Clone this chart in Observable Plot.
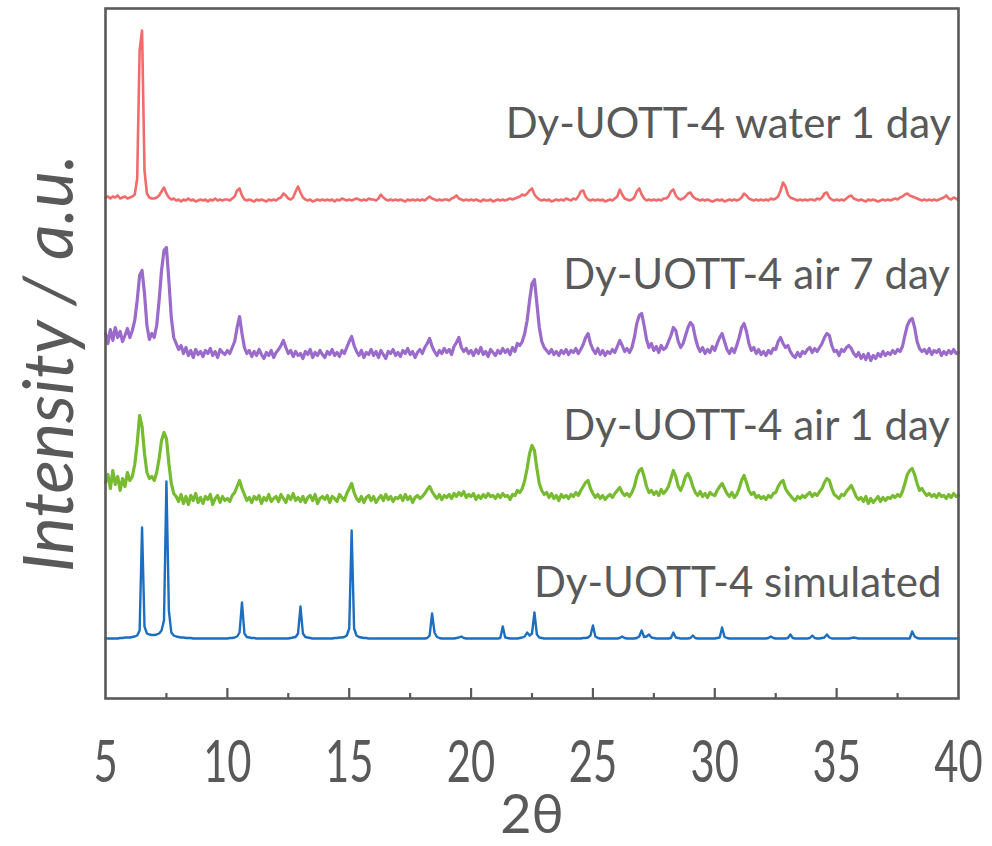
<!DOCTYPE html>
<html>
<head>
<meta charset="utf-8">
<script src="https://cdn.jsdelivr.net/npm/d3@7"></script>
<script src="https://cdn.jsdelivr.net/npm/@observablehq/plot@0.6"></script>
<style>
  html, body { margin: 0; padding: 0; background: #fff; }
</style>
</head>
<body>
<div id="chart"></div>
<script>
// ---- sampling of the 2θ axis (degrees) ----
const twoThetaStart = 5;
const twoThetaStep = 0.1;

// ---- series names (legend text) ----
const seriesNames = ["Dy-UOTT-4 water 1 day", "Dy-UOTT-4 air 7 day", "Dy-UOTT-4 air 1 day", "Dy-UOTT-4 simulated"];

// ---- vertical offsets of the stacked patterns (a.u.) ----
const seriesOffsets = [498, 343, 200, 60];

// ---- intensities (a.u.), one value per 0.1° from 5.0° to 40.0° ----
const water1Day = [
  3,4,2,4,3,5,2,3,4,2,
  3,4,6,22,150,170,30,7,3,2,
  2,3,5,9,13,7,3,1,2,0,
  1,-1,1,0,2,0,1,-1,0,1,
  0,1,-1,1,0,2,0,1,0,1,
  1,0,2,4,10,12,5,1,0,1,
  0,-1,1,0,1,0,-1,1,0,1,
  0,2,3,7,5,2,1,3,9,14,
  8,3,1,0,1,-1,0,1,0,1,
  0,1,0,1,-1,1,0,2,1,0,
  1,0,1,2,1,0,1,0,2,1,
  1,0,2,6,3,1,0,1,0,1,
  0,1,0,-1,1,0,1,0,1,0,
  1,0,2,4,2,1,0,1,0,1,
  1,0,2,3,5,2,1,0,1,0,
  1,0,1,0,-1,1,0,0,1,-1,
  0,1,0,1,0,1,2,1,2,3,
  4,6,5,7,10,12,6,3,1,0,
  1,0,1,-1,0,1,0,1,0,2,
  1,0,2,1,4,9,10,4,1,0,
  1,0,1,0,1,-1,0,1,0,2,
  4,11,6,2,1,0,1,3,9,12,
  6,2,0,1,0,1,0,1,0,2,
  2,4,9,11,5,2,1,2,4,7,
  8,4,2,1,0,1,0,1,0,-1,
  0,1,0,1,-1,0,1,0,1,0,
  1,3,7,5,2,1,0,1,0,1,
  0,1,0,2,1,2,4,10,18,14,
  6,3,2,1,0,1,0,1,0,1,
  1,0,2,1,3,7,8,3,1,0,
  1,0,1,0,2,4,5,2,1,0,
  1,0,-1,1,0,1,0,-1,0,1,
  0,1,0,1,2,1,3,4,6,7,
  5,4,3,2,1,0,1,0,1,0,
  1,0,1,2,3,5,2,1,3,2,
  0
];

const air7Day = [
  22,12,26,15,28,18,24,14,20,27,
  18,25,35,55,80,85,62,30,16,22,
  18,30,55,85,105,108,75,38,18,12,
  6,10,2,8,0,5,-2,6,1,4,
  -1,5,2,7,0,4,-2,6,3,1,
  5,2,8,14,28,39,22,8,2,5,
  -1,4,0,6,1,-3,3,0,5,-2,
  3,6,10,15,8,2,5,-1,4,0,
  2,-3,4,1,6,-2,3,0,5,1,
  -2,4,1,6,0,3,-1,5,2,8,
  14,19,10,4,0,5,-2,3,1,6,
  0,4,-2,5,1,-3,4,2,6,0,
  3,-1,5,2,7,1,4,-2,3,6,
  2,8,12,17,9,4,0,5,2,7,
  3,6,1,9,13,18,8,4,7,2,
  5,0,6,2,8,1,4,-1,6,3,
  0,5,2,7,3,6,1,8,4,12,
  10,14,22,35,55,72,76,52,28,14,
  8,5,2,6,1,4,0,5,2,6,
  1,5,3,7,2,6,11,18,22,12,
  6,2,7,1,5,0,4,2,6,3,
  9,15,10,4,7,3,8,18,32,40,
  42,30,16,8,12,5,9,3,10,6,
  8,14,20,28,25,14,8,12,20,28,
  33,30,18,9,4,8,2,6,3,9,
  5,12,18,22,14,6,2,7,3,10,
  18,28,32,24,12,5,8,2,6,1,
  4,0,5,2,7,6,14,18,12,8,
  10,4,0,-2,3,-1,4,2,6,8,
  3,7,4,8,12,18,22,20,10,4,
  5,0,6,4,8,10,7,2,-1,3,
  -3,1,-4,2,-5,0,-3,2,-1,4,
  0,3,1,5,2,6,4,9,20,30,
  35,37,28,14,7,4,6,2,7,1,
  5,3,6,0,4,1,5,2,6,2,
  3
];

const air1Day = [
  16,24,10,28,14,22,8,20,12,26,
  18,22,34,55,83,72,45,26,20,22,
  18,26,40,58,66,60,35,15,5,2,
  -3,4,-5,2,-6,3,-2,5,-4,1,
  -5,2,-1,4,-6,0,3,-4,2,-2,
  0,-3,3,6,12,18,10,4,-2,1,
  -4,2,-1,3,-5,1,-2,4,-3,0,
  2,-3,4,0,-4,3,-1,5,-2,1,
  -3,2,-4,1,3,-2,4,-5,0,2,
  -1,3,-4,2,0,-3,4,1,-2,5,
  10,15,6,0,-3,2,-4,1,3,-2,
  2,-4,0,3,-2,4,-1,2,-3,1,
  0,3,-2,4,-1,2,-4,1,3,0,
  2,5,9,12,7,3,0,4,-1,3,
  1,4,0,5,2,6,3,7,1,4,
  2,5,-1,3,0,4,1,5,2,3,
  0,4,1,5,2,3,-1,4,3,8,
  6,10,18,30,45,53,48,30,15,8,
  4,6,1,5,0,3,-2,4,1,3,
  0,4,2,6,3,8,12,16,18,10,
  5,1,4,0,3,-1,2,4,1,5,
  8,11,6,3,5,2,6,12,22,28,
  30,22,12,6,8,4,7,3,9,5,
  8,12,20,28,22,12,8,14,22,25,
  20,12,6,3,7,2,5,1,6,4,
  3,8,12,15,10,5,2,6,1,4,
  10,18,23,16,8,4,6,1,3,0,
  2,-1,3,1,5,6,12,16,18,10,
  6,3,0,-2,2,0,3,1,4,6,
  2,5,3,7,10,16,20,18,10,4,
  2,0,4,3,7,10,13,8,2,-1,
  1,-3,2,-5,0,-4,-1,2,-3,1,
  -2,1,0,3,1,4,2,7,15,24,
  28,30,24,15,8,10,6,3,5,2,
  4,1,5,2,3,0,4,1,5,2,
  3
];

const simulated = [
  0,0,0,0,0,0,0.5,0.5,1,1,
  1,1.5,2,3,8,111,12,5,4,3.5,
  3.5,4,5,8,18,157,28,6,3,2,
  1.5,1,1,0.5,0.5,0.5,0,0,0,0,
  0,0,0,0,0,0,0,0,0,0,
  0,0.5,0.5,1,2,6,36,5,1.5,1,
  0.5,0.5,0,0,0,0,0,0,0,0,
  0,0,0,0,0,0,0.5,1,1.5,5,
  32,5,1.5,1,0.5,0,0,0,0,0,
  0,0,0,0,0.5,0.5,1,1,1.5,3,
  10,108,10,3,1.5,1,0.5,0.5,0,0,
  0,0,0,0,0,0,0,0,0,0,
  0,0,0,0,0,0,0,0,0,0,
  0,0,0.5,3,25,6,1.5,0.5,0,0,
  0,0,0,0,0.5,1,2,0.5,0,0,
  0,0,0,0,0,0,0,0,0,0,
  0,0,0.5,12,1,0.5,0,0,0,0,
  0.5,1,2,6,3,5,26,4,1,0.5,
  0,0,0,0,0,0,0,0,0,0,
  0,0,0,0,0,0,0.5,0.5,1,3,
  13,2,0.5,0,0,0,0,0,0,0,
  0,0.5,2,0.5,0,0,0,0,0.5,2,
  8,1.5,2,4,1,0.5,0,0,0,0,
  0,0,0.5,6,1,0.5,0,0,0,0,
  0.5,3,0.5,0,0,0,0,0,0,0,
  0,0.5,1,11,1.5,0.5,0,0,0,0,
  0,0,0,0,0,0,0,0,0,0,
  0,0,0.5,2,0.5,0,0,0,0,0,
  0.5,4,0.5,0,0,0,0,0,0,0.5,
  3,0.5,0,0,0.5,1,4,1,0,0,
  0,0,0,0,0,0,0.5,1,0.5,0,
  0,0,0,0,0,0,0,0,0,0,
  0,0,0,0,0,0,0,0,0,0,
  0,7,2,0.5,0,0,0,0,0,0,
  0,0,0,0,0,0,0,0,0,0,
  0
];

// ---- axis ticks ----
const xTickValues = [5, 10, 15, 20, 25, 30, 35, 40];
const xMajorInnerTicks = [10, 15, 20, 25, 30, 35];
const xMinorTicks = [7.5, 12.5, 17.5, 22.5, 27.5, 32.5, 37.5];

// ---- styling / layout (not data) ----
const seriesColors = ["#F26B6B", "#9B6BCB", "#77BB30", "#1B6EC0"];
const seriesWidths = [2.6, 3.2, 3.2, 2.4];
const labelEndX = [39.7, 39.65, 39.65, 39.3];   // 2θ where each label ends
const labelBaseY = [561, 410, 259, 102];        // a.u. where each label's baseline sits
const ink = "#595959";

const seriesValues = [water1Day, air7Day, air1Day, simulated];

const seriesRows = seriesValues.map((vals, k) =>
  vals.map((v, i) => ({
    series: seriesNames[k],
    twoTheta: +(twoThetaStart + i * twoThetaStep).toFixed(1),
    intensity: v + seriesOffsets[k]
  }))
);

const labelRows = seriesNames.map((name, k) => ({name, x: labelEndX[k], y: labelBaseY[k]}));

const chart = Plot.plot({
  width: 992,
  height: 846,
  marginLeft: 105,
  marginRight: 34,
  marginTop: 8,
  marginBottom: 148,
  x: {domain: [5, 40], label: null},
  y: {domain: [0, 690], axis: null},
  style: {fontFamily: "Lato, 'Open Sans', sans-serif", color: ink, background: "#fff", overflow: "visible"},
  marks: [
    ...seriesRows.map((rows, k) =>
      Plot.line(rows, {x: "twoTheta", y: "intensity", stroke: seriesColors[k], strokeWidth: seriesWidths[k], strokeLinejoin: "round"})
    ),
    Plot.ruleX(xMajorInnerTicks, {y1: 0, y2: 10, stroke: ink, strokeWidth: 2.2}),
    Plot.ruleX(xMinorTicks, {y1: 0, y2: 5, stroke: ink, strokeWidth: 2.2}),
    Plot.frame({stroke: ink, strokeWidth: 2.6}),
    Plot.axisX(xTickValues, {tickSize: 0, tickPadding: 42, fontSize: 58, label: null, fill: ink}),
    Plot.text(labelRows, {x: "x", y: "y", text: "name", textAnchor: "end", lineAnchor: "bottom", fontSize: 42, fill: ink}),
    Plot.text(["2θ"], {frameAnchor: "bottom", dy: 134, lineAnchor: "bottom", fontSize: 54, fill: ink, ariaLabel: "x-title"}),
    Plot.text(["Intensity / a.u."], {frameAnchor: "left", textAnchor: "middle", rotate: -90, dx: -33, dy: 10, lineAnchor: "bottom", fontSize: 70, fontStyle: "italic", fill: ink, ariaLabel: "y-title"})
  ]
});

document.getElementById("chart").appendChild(chart);

// condensed look of the axis numerals (as in the original figure)
chart.querySelectorAll('g[aria-label="x-axis tick label"] text, g[aria-label="x-title"] text').forEach(t => {
  const tr = t.getAttribute("transform") || "";
  t.setAttribute("transform", tr + " scale(0.72,1)");
});
// slightly wider tracking for the y title, as in the original
chart.querySelectorAll('g[aria-label="y-title"] text').forEach(t => t.setAttribute("letter-spacing", "4.5"));
</script>
</body>
</html>
